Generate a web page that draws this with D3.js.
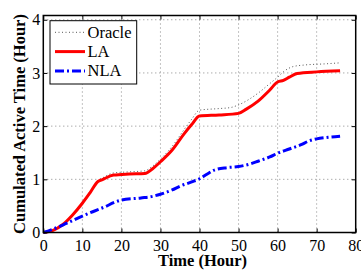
<!doctype html>
<html>
<head>
<style>
    body { margin: 0; background: #fff; }
    text { font-family: "Liberation Serif", "Times New Roman", serif; }
</style>
</head>
<body>

<div id="container"></div>

<script src="https://d3js.org/d3.v7.min.js"></script>
<script type="text/javascript">

    var width = 361;
    var height = 272;

    var xTicks = [0, 10, 20, 30, 40, 50, 60, 70, 80];
    var yTicks = [0, 1, 2, 3, 4];

    var oracleT = [0, 2.5, 5, 7.5, 10, 12, 14, 15, 18, 22, 26, 28, 30, 33, 36, 38, 40, 45, 48, 50, 55, 58, 60, 62, 64, 67, 72, 76];
    var oracleV = [0, 0.04, 0.15, 0.33, 0.55, 0.75, 0.98, 1.02, 1.12, 1.14, 1.16, 1.25, 1.38, 1.62, 1.93, 2.13, 2.30, 2.33, 2.35, 2.40, 2.62, 2.80, 2.92, 3.05, 3.12, 3.15, 3.17, 3.19];

    var laT = [0, 2.5, 5, 7.5, 10, 12, 14, 15, 18, 22, 26, 28, 30, 33, 36, 38, 40, 45, 50, 52, 55, 58, 60, 61.5, 63, 65, 70, 76];
    var laV = [0, 0.04, 0.15, 0.33, 0.55, 0.75, 0.96, 0.99, 1.08, 1.10, 1.11, 1.20, 1.33, 1.55, 1.85, 2.03, 2.19, 2.21, 2.24, 2.32, 2.47, 2.68, 2.83, 2.86, 2.92, 2.99, 3.02, 3.04];

    var nlaT = [0, 2, 5, 10, 14, 16, 18, 20, 25, 28, 30, 33, 35, 38, 40, 42, 44, 47, 50, 53, 55, 58, 60, 63, 66, 68, 70, 73, 76];
    var nlaV = [0, 0.05, 0.14, 0.31, 0.43, 0.49, 0.56, 0.61, 0.65, 0.68, 0.72, 0.80, 0.87, 0.95, 1.01, 1.10, 1.18, 1.22, 1.24, 1.29, 1.34, 1.42, 1.49, 1.57, 1.65, 1.72, 1.76, 1.79, 1.81];

    var series = [
        {label: "Oracle", xc: oracleT, yc: oracleV, color: "#555", width: 1, dash: "1,2.5"},
        {label: "LA", xc: laT, yc: laV, color: "#ff0000", width: 3, dash: null},
        {label: "NLA", xc: nlaT, yc: nlaV, color: "#0000ff", width: 3, dash: "9,3,2,3"}
    ];

    var plotLeft = 43.3, plotRight = 355.7, plotTop = 15.5, plotBottom = 232.5;

    var x_scale = d3.scaleLinear().domain([0, 80]).range([plotLeft, plotRight]);
    var y_scale = d3.scaleLinear().domain([0, 4.08]).range([plotBottom, plotTop]);

    var svg = d3.select("#container").append("svg")
        .attr("width", width)
        .attr("height", height);

    // grid
    svg.append("g").selectAll("line")
        .data(xTicks.slice(1, -1))
        .enter().append("line")
        .attr("x1", function (d) { return x_scale(d); })
        .attr("x2", function (d) { return x_scale(d); })
        .attr("y1", plotTop)
        .attr("y2", plotBottom)
        .attr("stroke", "#888")
        .attr("stroke-width", 1)
        .attr("stroke-dasharray", "1,3");

    svg.append("g").selectAll("line")
        .data(yTicks.slice(1))
        .enter().append("line")
        .attr("x1", plotLeft)
        .attr("x2", plotRight)
        .attr("y1", function (d) { return y_scale(d); })
        .attr("y2", function (d) { return y_scale(d); })
        .attr("stroke", "#888")
        .attr("stroke-width", 1)
        .attr("stroke-dasharray", "1,3");

    var draw_line = d3.line()
        .curve(d3.curveMonotoneX)
        .x(function (d) { return x_scale(d[0]); })
        .y(function (d) { return y_scale(d[1]); });

    svg.append("g").selectAll("path")
        .data(series)
        .enter().append("path")
        .attr("d", function (d) { return draw_line(d3.zip(d.xc, d.yc)); })
        .attr("fill", "none")
        .attr("stroke", function (d) { return d.color; })
        .attr("stroke-width", function (d) { return d.width; })
        .attr("stroke-dasharray", function (d) { return d.dash; });

    // axes with inward ticks on all four sides
    var x_axis1 = d3.axisBottom(x_scale).tickValues(xTicks).tickSize(-4).tickPadding(7).tickFormat(d3.format("d"));
    var x_axis2 = d3.axisTop(x_scale).tickValues(xTicks).tickSize(-4).tickFormat("");
    var y_axis1 = d3.axisLeft(y_scale).tickValues(yTicks).tickSize(-4).tickPadding(3).tickFormat(d3.format("d"));
    var y_axis2 = d3.axisRight(y_scale).tickValues(yTicks).tickSize(-4).tickFormat("");

    function styleAxis(g) {
        g.select(".domain").remove();
        g.selectAll(".tick line").attr("stroke", "#000").attr("stroke-width", 1);
        g.selectAll("text")
            .attr("fill", "#000")
            .style("font-family", "'Liberation Serif', serif")
            .style("font-size", "16px");
    }

    svg.append("g").attr("transform", "translate(0," + plotBottom + ")").call(x_axis1).call(styleAxis);
    svg.append("g").attr("transform", "translate(0," + plotTop + ")").call(x_axis2).call(styleAxis);
    svg.append("g").attr("transform", "translate(" + plotLeft + ",0)").call(y_axis1).call(styleAxis);
    svg.append("g").attr("transform", "translate(" + plotRight + ",0)").call(y_axis2).call(styleAxis);

    svg.append("rect")
        .attr("x", plotLeft)
        .attr("y", plotTop)
        .attr("width", plotRight - plotLeft)
        .attr("height", plotBottom - plotTop)
        .attr("fill", "none")
        .attr("stroke", "#000")
        .attr("stroke-width", 1.5);

    svg.append("text")
        .attr("x", (plotLeft + plotRight) / 2 + 3)
        .attr("y", 266)
        .style("text-anchor", "middle")
        .style("font-weight", "bold")
        .style("font-size", "16.5px")
        .text("Time (Hour)");

    svg.append("text")
        .attr("transform", "translate(25," + ((plotTop + plotBottom) / 2) + ") rotate(-90)")
        .style("text-anchor", "middle")
        .style("font-weight", "bold")
        .style("font-size", "16.5px")
        .text("Cumulated Active Time (Hour)");

    // legend
    var legend = svg.append("g");
    legend.append("rect")
        .attr("x", 50)
        .attr("y", 20.7)
        .attr("width", 86.7)
        .attr("height", 63.3)
        .attr("fill", "#fff")
        .attr("stroke", "#000")
        .attr("stroke-width", 1);

    var items = legend.selectAll(".item")
        .data(series)
        .enter().append("g")
        .attr("class", "item")
        .attr("transform", function (d, i) { return "translate(0," + (32.3 + i * 19.3) + ")"; });

    items.append("line")
        .attr("x1", 55)
        .attr("x2", 85)
        .attr("stroke", function (d) { return d.color; })
        .attr("stroke-width", function (d) { return d.width; })
        .attr("stroke-dasharray", function (d) { return d.dash; });

    items.append("text")
        .attr("x", 87.5)
        .attr("dy", "0.33em")
        .style("font-size", "16.5px")
        .text(function (d) { return d.label; });

</script>
</body>
</html>
